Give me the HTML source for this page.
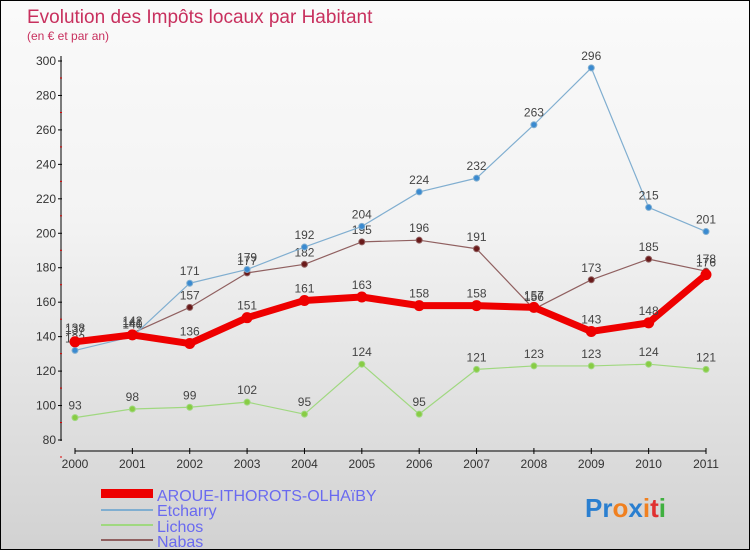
<!DOCTYPE html>
<html><head><meta charset="utf-8"><style>
body{margin:0;width:750px;height:550px;overflow:hidden}
#c{position:relative;width:748px;height:548px;border:1px solid #000;background:linear-gradient(#fafafa,#f3f3f3 40%,#d2d2d2);font-family:"Liberation Sans",sans-serif}
</style></head><body>
<div id="c">
<svg id="s" width="748" height="548" style="position:absolute;left:0;top:0">
<text x="26" y="22" font-size="19" fill="#c8305e">Evolution des Impôts locaux par Habitant</text>
<text x="26" y="39" font-size="12" fill="#c8305e">(en € et par an)</text>
<g id="ax"></g><g id="ser"></g>
<g>
<rect x="100" y="488" width="52" height="9" fill="#e00"/>
<text x="156" y="500" font-size="16" fill="#6a6af0">AROUE-ITHOROTS-OLHAïBY</text>
<rect x="100" y="508" width="52" height="2" fill="#80aed0"/>
<text x="156" y="515" font-size="16" fill="#6a6af0">Etcharry</text>
<rect x="100" y="523" width="52" height="2" fill="#a0d880"/>
<text x="156" y="531" font-size="16" fill="#6a6af0">Lichos</text>
<rect x="100" y="538" width="52" height="2" fill="#906060"/>
<text x="156" y="546" font-size="16" fill="#6a6af0">Nabas</text>
</g>
<g font-size="26" font-weight="bold">
<text x="584" y="516"><tspan fill="#2a7fd0">Pr</tspan><tspan fill="#f08020">o</tspan><tspan fill="#2a7fd0">x</tspan><tspan fill="#f08020">i</tspan><tspan fill="#e03030">t</tspan><tspan fill="#40b040">i</tspan></text>
</g>
</svg></div>
<script>
const years=[2000,2001,2002,2003,2004,2005,2006,2007,2008,2009,2010,2011];
const aroue=[137,141,136,151,161,163,158,158,157,143,148,176];
const etcharry=[132,140,171,179,192,204,224,232,263,296,215,201];
const lichos=[93,98,99,102,95,124,95,121,123,123,124,121];
const nabas=[138,142,157,177,182,195,196,191,156,173,185,178];
const yTicks=[80,100,120,140,160,180,200,220,240,260,280,300];
const NS="http://www.w3.org/2000/svg";
const X=i=>74+i*(705-74)/(years.length-1);
const Y=v=>439-(v-80)*(439-60)/220;
function el(t,a,p){const e=document.createElementNS(NS,t);for(const k in a)e.setAttribute(k,a[k]);p.appendChild(e);return e;}
const ax=document.getElementById('ax');
let a=el('line',{x1:60,y1:55,x2:60,y2:440,stroke:'#000'},ax);


a=el('line',{x1:74,y1:450,x2:705,y2:450,stroke:'#000'},ax);


yTicks.forEach(v=>{const y=Y(v);
 el('line',{x1:57,y1:y,x2:61,y2:y,stroke:'#000'},ax);
 el('line',{x1:59,y1:y+17,x2:61,y2:y+17,stroke:'#d00'},ax);
 const t=el('text',{x:55,y:y+4,'text-anchor':'end','font-size':12,fill:'#333'},ax);t.textContent=v;
 
 });
years.forEach((yr,i)=>{const x=X(i);
 el('line',{x1:x,y1:447,x2:x,y2:453,stroke:'#000'},ax);
 const t=el('text',{x:x,y:467,'text-anchor':'middle','font-size':12,fill:'#333'},ax);t.textContent=yr;
 
 });
const ser=document.getElementById('ser');
function draw(name,d,col,w,r,dot){const g=el('g',{},ser);
 
 
 el('polyline',{points:d.map((v,i)=>X(i)+','+Y(v)).join(' '),fill:'none',stroke:col,'stroke-width':w,'stroke-linejoin':'round'},g);
 d.forEach((v,i)=>{const c=el('circle',{cx:X(i),cy:Y(v),r:r,fill:dot,stroke:col,'stroke-width':1},g);
  
  
  const t=el('text',{x:X(i),y:Y(v)-8,'text-anchor':'middle','font-size':12,fill:'#444'},g);t.textContent=v;});}
draw('lichos',lichos,'#a0d880',1.2,3,'#88cc44');
draw('nabas',nabas,'#906060',1.2,3,'#6a1a1a');
draw('etcharry',etcharry,'#80aed0',1.2,3,'#3a8ad0');
draw('aroue',aroue,'#e00',7,5,'#e00');
</script>
</body></html>
